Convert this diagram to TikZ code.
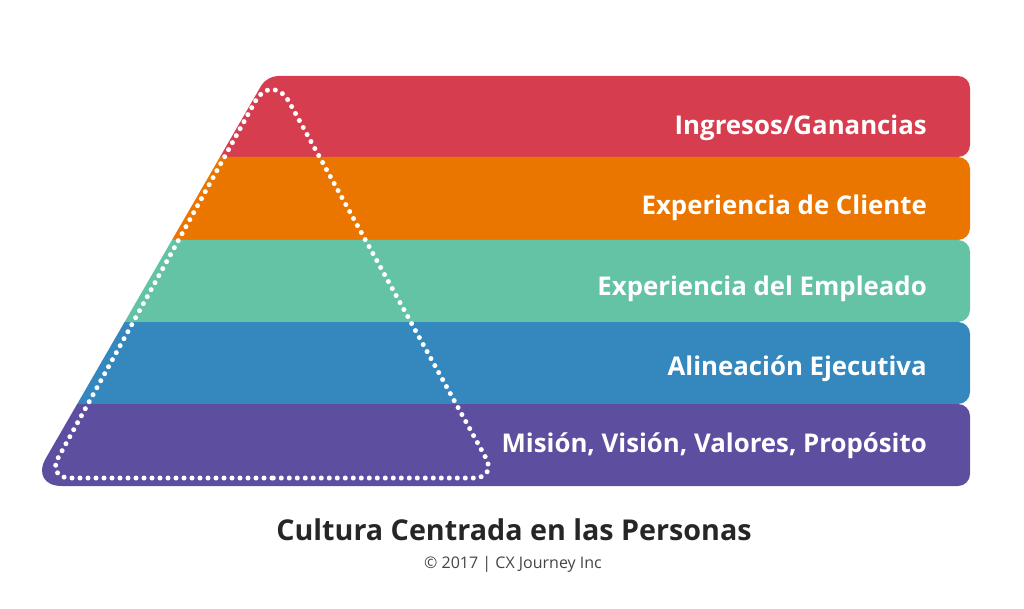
\documentclass[tikz,border=0pt]{standalone}
\usepackage{fontspec}
\setmainfont{Open Sans}
\definecolor{cred}{RGB}{214,62,80}
\definecolor{corange}{RGB}{234,118,0}
\definecolor{cteal}{RGB}{100,195,165}
\definecolor{cblue}{RGB}{52,136,190}
\definecolor{cpurple}{RGB}{94,78,160}
\definecolor{ctitle}{RGB}{38,38,38}
\definecolor{ccopy}{RGB}{68,68,68}
\begin{document}
\begin{tikzpicture}[x=1pt,y=-1pt,
  band/.style={rounded corners=12pt},
  label/.style={anchor=base east,inner sep=0pt,text=white,font=\fontsize{25.8}{28}\selectfont\bfseries},
  dots/.style={draw=white,line width=5pt,line cap=round,dash pattern=on 0pt off 8pt}]
\useasboundingbox (0,0) rectangle (1024,609);
\begin{scope}
  \clip (600,76) [rounded corners=11pt]-- (266.8,76) [rounded corners=32pt]-- (29.8,486) [sharp corners]-- (1010,486) -- (1010,76) -- cycle;
  \fill[cred,band] (0,76) rectangle (970,157);
  \fill[corange,band] (0,157) rectangle (970,240);
  \fill[cteal,band] (0,240) rectangle (970,322);
  \fill[cblue,band] (0,322) rectangle (970,404);
  \fill[cpurple,band] (0,404) rectangle (970,486);
\end{scope}
\coordinate (apex) at (272,71);
\coordinate (bl) at (47,478);
\coordinate (br) at (497,478);
\coordinate (bm) at (272,478);
\draw[dots] (bm) [rounded corners=23pt]-- (bl) [rounded corners=36pt]-- (apex) [rounded corners=23pt]-- (br) [sharp corners]-- (bm);
\node[label] (l1) at (927,135) {Ingresos/Ganancias};
\node[label] (l2) at (927,215) {Experiencia de Cliente};
\node[label] (l3) at (927,295) {Experiencia del Empleado};
\node[label] (l4) at (927,375) {Alineación Ejecutiva};
\node[label] (l5) at (927,452) {Misión, Visión, Valores, Propósito};
\node[anchor=base,inner sep=0pt,text=ctitle,font=\fontsize{28.7}{32}\selectfont\bfseries] (title) at (514,540) {Cultura Centrada en las Personas};
\node[anchor=base,inner sep=0pt,text=ccopy,font=\fontsize{16}{19}\selectfont] (copy) at (513,568) {© 2017 | CX Journey Inc};
\end{tikzpicture}
\end{document}
